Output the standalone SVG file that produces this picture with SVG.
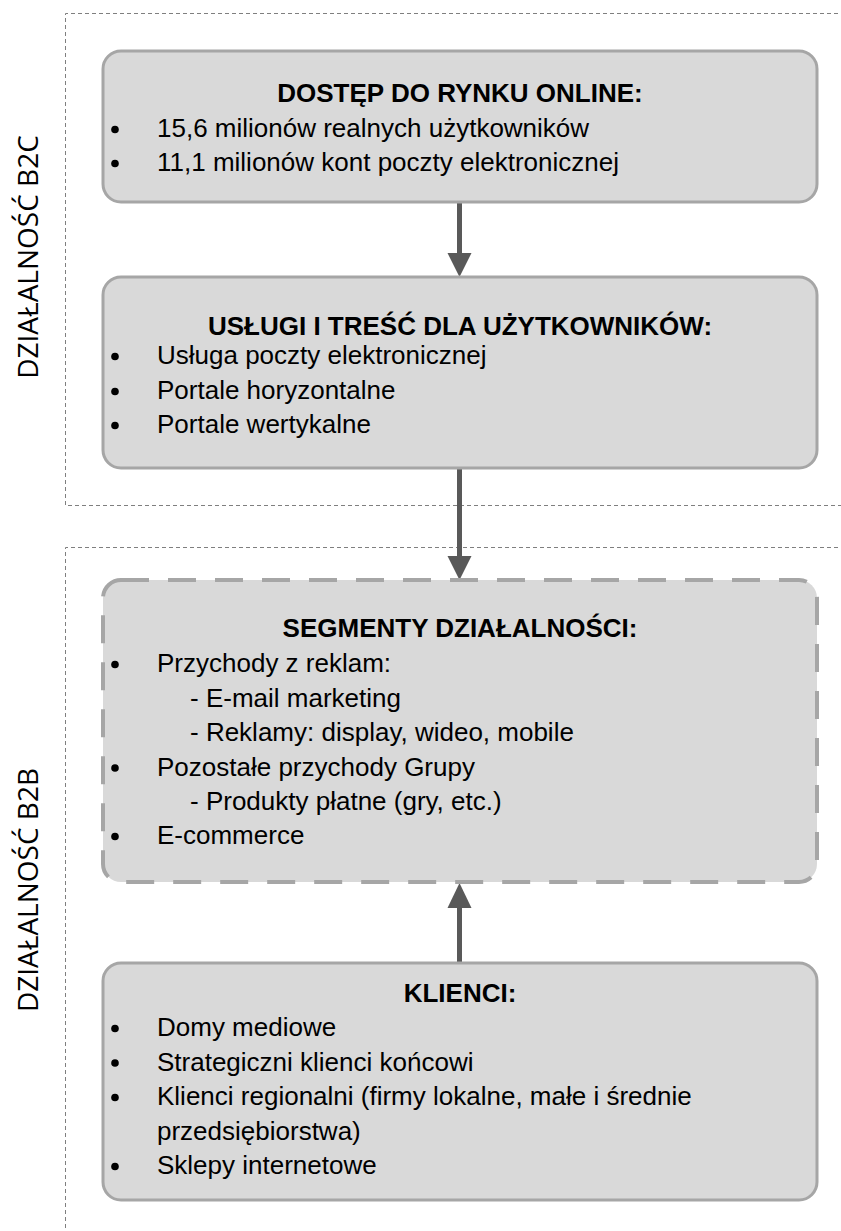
<svg xmlns="http://www.w3.org/2000/svg" width="841" height="1231" viewBox="0 0 841 1231">
<style>
.bg{fill:#ffffff}
.zone{fill:none;stroke:#7f7f7f;stroke-width:1;stroke-dasharray:4 3}
.box{fill:#d9d9d9;stroke:#a6a6a6;stroke-width:3}
.boxd{fill:#d9d9d9;stroke:#a6a6a6;stroke-width:4;stroke-dasharray:28 19}
.t{font-family:"Liberation Sans",Arial,sans-serif;font-size:26px;fill:#000000}
.h{font-family:"Liberation Sans",Arial,sans-serif;font-size:26px;font-weight:bold;fill:#000000;text-anchor:middle}
.v{font-family:"Open Sans","DejaVu Sans",sans-serif;font-size:28px;fill:#000000;text-anchor:middle}
.dot{fill:#000000}
.ln{stroke:#595959;stroke-width:5;fill:none}
.hd{fill:#595959}
</style>
<rect class="bg" x="0" y="0" width="841" height="1231"/>
<g id="zone-b2c">
<path class="zone" d="M 845 13.5 H 65.5 V 505.5 H 845"/>
<text class="v" transform="translate(38,257) rotate(-90)">DZIAŁALNOŚĆ B2C</text>
</g>
<g id="zone-b2b">
<path class="zone" d="M 845 547.5 H 65.5 V 1235"/>
<text class="v" transform="translate(38,890) rotate(-90)">DZIAŁALNOŚĆ B2B</text>
</g>
<g id="connectors">
<line class="ln" x1="459.5" y1="202" x2="459.5" y2="256"/>
<polygon class="hd" points="447.5,253 471.5,253 459.5,277"/>
<line class="ln" x1="459.5" y1="468" x2="459.5" y2="559"/>
<polygon class="hd" points="447.5,556 471.5,556 459.5,580"/>
<line class="ln" x1="459.5" y1="963" x2="459.5" y2="905"/>
<polygon class="hd" points="447.5,908 471.5,908 459.5,883"/>
</g>
<g id="node-dostep">
<rect class="box" x="103" y="51" width="714" height="151" rx="18"/>
<text class="h" x="460" y="102">DOSTĘP DO RYNKU ONLINE:</text>
<circle class="dot" cx="115" cy="129.5" r="3.8"/>
<text class="t" x="157" y="137">15,6 milionów realnych użytkowników</text>
<circle class="dot" cx="115" cy="163.5" r="3.8"/>
<text class="t" x="157" y="171">11,1 milionów kont poczty elektronicznej</text>
</g>
<g id="node-uslugi">
<rect class="box" x="103" y="277" width="714" height="191" rx="18"/>
<text class="h" x="460" y="335">USŁUGI I TREŚĆ DLA UŻYTKOWNIKÓW:</text>
<circle class="dot" cx="115" cy="356.5" r="3.8"/>
<text class="t" x="157" y="364">Usługa poczty elektronicznej</text>
<circle class="dot" cx="115" cy="391.5" r="3.8"/>
<text class="t" x="157" y="399">Portale horyzontalne</text>
<circle class="dot" cx="115" cy="425.5" r="3.8"/>
<text class="t" x="157" y="433">Portale wertykalne</text>
</g>
<g id="node-segmenty">
<rect class="boxd" x="103" y="580" width="714" height="302" rx="18"/>
<text class="h" x="460" y="637">SEGMENTY DZIAŁALNOŚCI:</text>
<circle class="dot" cx="115" cy="664.5" r="3.8"/>
<text class="t" x="157" y="672">Przychody z reklam:</text>
<text class="t" x="190" y="706.5">- E-mail marketing</text>
<text class="t" x="190" y="741">- Reklamy: display, wideo, mobile</text>
<circle class="dot" cx="115" cy="768" r="3.8"/>
<text class="t" x="157" y="775.5">Pozostałe przychody Grupy</text>
<text class="t" x="190" y="810">- Produkty płatne (gry, etc.)</text>
<circle class="dot" cx="115" cy="836.5" r="3.8"/>
<text class="t" x="157" y="844">E-commerce</text>
</g>
<g id="node-klienci">
<rect class="box" x="103" y="963" width="714" height="237" rx="18"/>
<text class="h" x="460" y="1002">KLIENCI:</text>
<circle class="dot" cx="115" cy="1028.5" r="3.8"/>
<text class="t" x="157" y="1036">Domy mediowe</text>
<circle class="dot" cx="115" cy="1063" r="3.8"/>
<text class="t" x="157" y="1070.5">Strategiczni klienci końcowi</text>
<circle class="dot" cx="115" cy="1097.5" r="3.8"/>
<text class="t" x="157" y="1105">Klienci regionalni (firmy lokalne, małe i średnie</text>
<text class="t" x="157" y="1139.5">przedsiębiorstwa)</text>
<circle class="dot" cx="115" cy="1166.5" r="3.8"/>
<text class="t" x="157" y="1174">Sklepy internetowe</text>
</g>
</svg>
